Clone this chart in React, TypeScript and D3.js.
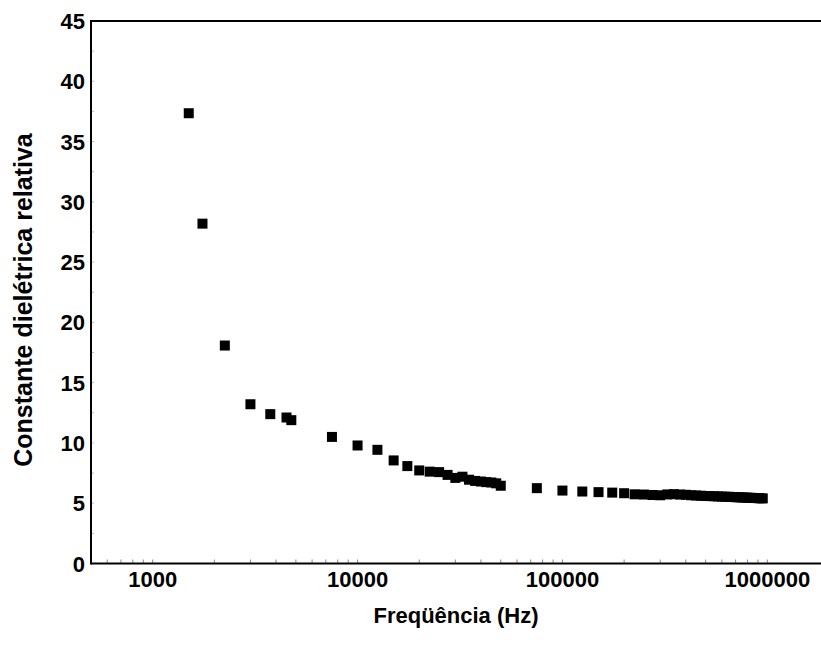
import React from "react";
import * as d3 from "d3";

const freqs: number[] = [
  1500, 1750, 2250, 3000, 3750, 4500, 4750, 7500, 10000, 12500, 15000, 17500,
  20000, 22500, 25000, 27500, 30000, 32500, 35000, 37500, 40000, 42500, 45000, 47500, 50000,
  75000, 100000, 125000, 150000, 175000, 200000, 225000, 250000, 275000, 300000,
  325000, 350000, 375000, 400000, 425000, 450000, 475000, 500000, 525000, 550000,
  575000, 600000, 625000, 650000, 675000, 700000, 725000, 750000, 775000, 800000,
  825000, 850000, 875000, 900000, 925000, 950000,
];
const values: number[] = [
  37.35, 28.19, 18.08, 13.21, 12.39, 12.11, 11.89, 10.5, 9.79, 9.43, 8.55, 8.08,
  7.72, 7.62, 7.58, 7.35, 7.1, 7.2, 6.95, 6.85, 6.8, 6.75, 6.72, 6.65, 6.45,
  6.25, 6.05, 5.97, 5.92, 5.88, 5.83, 5.74, 5.72, 5.68, 5.66,
  5.73, 5.75, 5.72, 5.7, 5.66, 5.64, 5.62, 5.6, 5.59, 5.58,
  5.56, 5.55, 5.54, 5.53, 5.52, 5.5, 5.49, 5.48, 5.47, 5.46,
  5.45, 5.44, 5.43, 5.42, 5.41, 5.4,
];
const xTickValues: number[] = [1000, 10000, 100000, 1000000];
const yTickValues: number[] = [0, 5, 10, 15, 20, 25, 30, 35, 40, 45];
const xTitle = "Freqüência (Hz)";
const yTitle = "Constante dielétrica relativa";

const W = 821;
const H = 646;
const left = 91;
const right = 829;
const top = 21;
const bottom = 563.5;
const FONT = "'Liberation Sans', Arial, Helvetica, sans-serif";

export default function App() {
  const x = d3.scaleLog().domain([500, 2000000]).range([left, right]);
  const y = d3.scaleLinear().domain([0, 45]).range([bottom, top]);

  const minorX: number[] = [];
  for (let e = 2; e <= 6; e++) {
    for (let m = 1; m <= 9; m++) {
      const v = m * Math.pow(10, e);
      if (v >= 500 && v <= 2000000) minorX.push(v);
    }
  }
  const minorY = d3.range(0, 45.01, 2.5);
  const sq = 10;

  return (
    <svg
      width={W}
      height={H}
      style={{ position: "absolute", left: 0, top: 0, background: "#fff" }}
    >
      <rect x={0} y={0} width={W} height={H} fill="#fff" />
      {minorX.map((v, i) => (
        <line key={"mx" + i} x1={x(v)} x2={x(v)} y1={bottom} y2={bottom - 4} stroke="#888" strokeWidth={1} />
      ))}
      {minorY.map((v, i) => (
        <line key={"my" + i} x1={left} x2={left + 3} y1={y(v)} y2={y(v)} stroke="#bbb" strokeWidth={1} />
      ))}
      <line x1={left} x2={W + 10} y1={top} y2={top} stroke="#000" strokeWidth={2} />
      <line x1={left} x2={W + 10} y1={bottom} y2={bottom} stroke="#000" strokeWidth={2} />
      <line x1={left} x2={left} y1={top - 1} y2={bottom + 1} stroke="#000" strokeWidth={2} />
      {freqs.map((f, i) => (
        <rect
          key={"p" + i}
          x={x(f) - sq / 2}
          y={y(values[i]) - sq / 2}
          width={sq}
          height={sq}
          fill="#000"
        />
      ))}
      {xTickValues.map((v) => (
        <text
          key={"xt" + v}
          x={x(v)}
          y={587}
          textAnchor="middle"
          fontFamily={FONT}
          fontWeight="bold"
          fontSize={22}
          fill="#000"
        >
          {String(v)}
        </text>
      ))}
      {yTickValues.map((v) => (
        <text
          key={"yt" + v}
          x={85}
          y={y(v) + 8}
          textAnchor="end"
          fontFamily={FONT}
          fontWeight="bold"
          fontSize={22}
          fill="#000"
        >
          {String(v)}
        </text>
      ))}
      <text
        x={456}
        y={623}
        textAnchor="middle"
        fontFamily={FONT}
        fontWeight="bold"
        fontSize={22}
        fill="#000"
      >
        {xTitle}
      </text>
      <text
        transform={`translate(32,300) rotate(-90)`}
        textAnchor="middle"
        fontFamily={FONT}
        fontWeight="bold"
        fontSize={25}
        fill="#000"
      >
        {yTitle}
      </text>
    </svg>
  );
}
